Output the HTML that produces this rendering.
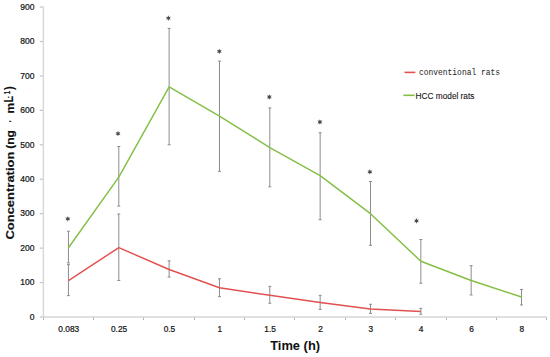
<!DOCTYPE html><html><head><meta charset="utf-8"><style>html,body{margin:0;padding:0;background:#fff;}body{width:550px;height:357px;overflow:hidden;}svg{display:block;}text{font-family:"Liberation Sans",sans-serif;}</style></head><body>
<svg width="550" height="357" viewBox="0 0 550 357">
<g stroke="#c4c4c4" stroke-width="1.2" fill="none">
<line x1="39.8" y1="317.00" x2="43.28" y2="317.00"/>
<line x1="39.8" y1="282.56" x2="43.28" y2="282.56"/>
<line x1="39.8" y1="248.12" x2="43.28" y2="248.12"/>
<line x1="39.8" y1="213.68" x2="43.28" y2="213.68"/>
<line x1="39.8" y1="179.24" x2="43.28" y2="179.24"/>
<line x1="39.8" y1="144.80" x2="43.28" y2="144.80"/>
<line x1="39.8" y1="110.36" x2="43.28" y2="110.36"/>
<line x1="39.8" y1="75.92" x2="43.28" y2="75.92"/>
<line x1="39.8" y1="41.48" x2="43.28" y2="41.48"/>
<line x1="39.8" y1="7.04" x2="43.28" y2="7.04"/>
</g>
<g stroke="#b4b4b4" stroke-width="1" fill="none">
<line x1="43.50" y1="317.0" x2="43.50" y2="320.0"/>
<line x1="93.50" y1="317.0" x2="93.50" y2="320.0"/>
<line x1="143.50" y1="317.0" x2="143.50" y2="320.0"/>
<line x1="194.50" y1="317.0" x2="194.50" y2="320.0"/>
<line x1="244.50" y1="317.0" x2="244.50" y2="320.0"/>
<line x1="294.50" y1="317.0" x2="294.50" y2="320.0"/>
<line x1="345.50" y1="317.0" x2="345.50" y2="320.0"/>
<line x1="395.50" y1="317.0" x2="395.50" y2="320.0"/>
<line x1="446.50" y1="317.0" x2="446.50" y2="320.0"/>
<line x1="496.50" y1="317.0" x2="496.50" y2="320.0"/>
<line x1="546.50" y1="317.0" x2="546.50" y2="320.0"/>
</g>
<g stroke="#d6d6d6" fill="none">
<line x1="43.4" y1="6.6" x2="43.4" y2="317.0" stroke-width="1.4"/>
<line x1="42.7" y1="317.0" x2="546.6800000000001" y2="317.0" stroke-width="1.7"/>
</g>
<g font-size="8.5" fill="#141414" stroke="#141414" stroke-width="0.22" text-anchor="end">
<text x="34.4" y="319.70">0</text>
<text x="34.4" y="285.26">100</text>
<text x="34.4" y="250.82">200</text>
<text x="34.4" y="216.38">300</text>
<text x="34.4" y="181.94">400</text>
<text x="34.4" y="147.50">500</text>
<text x="34.4" y="113.06">600</text>
<text x="34.4" y="78.62">700</text>
<text x="34.4" y="44.18">800</text>
<text x="34.4" y="9.74">900</text>
</g>
<g font-size="8.3" fill="#141414" stroke="#141414" stroke-width="0.22" text-anchor="middle">
<text x="68.75" y="331.9">0.083</text>
<text x="119.09" y="331.9">0.25</text>
<text x="169.43" y="331.9">0.5</text>
<text x="219.77" y="331.9">1</text>
<text x="270.11" y="331.9">1.5</text>
<text x="320.45" y="331.9">2</text>
<text x="370.79" y="331.9">3</text>
<text x="421.13" y="331.9">4</text>
<text x="471.47" y="331.9">6</text>
<text x="521.81" y="331.9">8</text>
</g>
<g stroke="#8c8c8c" stroke-width="1" fill="none">
<line x1="68.45" y1="262.93" x2="68.45" y2="231.24"/><line x1="66.95" y1="262.93" x2="69.95" y2="262.93"/><line x1="66.95" y1="231.24" x2="69.95" y2="231.24"/>
<line x1="118.79" y1="206.10" x2="118.79" y2="146.52"/><line x1="117.29" y1="206.10" x2="120.29" y2="206.10"/><line x1="117.29" y1="146.52" x2="120.29" y2="146.52"/>
<line x1="169.13" y1="144.80" x2="169.13" y2="28.39"/><line x1="167.63" y1="144.80" x2="170.63" y2="144.80"/><line x1="167.63" y1="28.39" x2="170.63" y2="28.39"/>
<line x1="219.47" y1="171.32" x2="219.47" y2="61.11"/><line x1="217.97" y1="171.32" x2="220.97" y2="171.32"/><line x1="217.97" y1="61.11" x2="220.97" y2="61.11"/>
<line x1="269.81" y1="186.82" x2="269.81" y2="107.95"/><line x1="268.31" y1="186.82" x2="271.31" y2="186.82"/><line x1="268.31" y1="107.95" x2="271.31" y2="107.95"/>
<line x1="320.15" y1="219.71" x2="320.15" y2="132.75"/><line x1="318.65" y1="219.71" x2="321.65" y2="219.71"/><line x1="318.65" y1="132.75" x2="321.65" y2="132.75"/>
<line x1="370.49" y1="245.36" x2="370.49" y2="181.48"/><line x1="368.99" y1="245.36" x2="371.99" y2="245.36"/><line x1="368.99" y1="181.48" x2="371.99" y2="181.48"/>
<line x1="420.83" y1="283.25" x2="420.83" y2="239.51"/><line x1="419.33" y1="283.25" x2="422.33" y2="283.25"/><line x1="419.33" y1="239.51" x2="422.33" y2="239.51"/>
<line x1="471.17" y1="294.96" x2="471.17" y2="265.68"/><line x1="469.67" y1="294.96" x2="472.67" y2="294.96"/><line x1="469.67" y1="265.68" x2="472.67" y2="265.68"/>
<line x1="521.51" y1="304.95" x2="521.51" y2="289.45"/><line x1="520.01" y1="304.95" x2="523.01" y2="304.95"/><line x1="520.01" y1="289.45" x2="523.01" y2="289.45"/>
<line x1="68.45" y1="295.65" x2="68.45" y2="264.65"/><line x1="66.95" y1="295.65" x2="69.95" y2="295.65"/><line x1="66.95" y1="264.65" x2="69.95" y2="264.65"/>
<line x1="118.79" y1="280.49" x2="118.79" y2="214.02"/><line x1="117.29" y1="280.49" x2="120.29" y2="280.49"/><line x1="117.29" y1="214.02" x2="120.29" y2="214.02"/>
<line x1="169.13" y1="277.05" x2="169.13" y2="260.86"/><line x1="167.63" y1="277.05" x2="170.63" y2="277.05"/><line x1="167.63" y1="260.86" x2="170.63" y2="260.86"/>
<line x1="219.47" y1="296.68" x2="219.47" y2="278.77"/><line x1="217.97" y1="296.68" x2="220.97" y2="296.68"/><line x1="217.97" y1="278.77" x2="220.97" y2="278.77"/>
<line x1="269.81" y1="303.22" x2="269.81" y2="286.35"/><line x1="268.31" y1="303.22" x2="271.31" y2="303.22"/><line x1="268.31" y1="286.35" x2="271.31" y2="286.35"/>
<line x1="320.15" y1="309.42" x2="320.15" y2="295.30"/><line x1="318.65" y1="309.42" x2="321.65" y2="309.42"/><line x1="318.65" y1="295.30" x2="321.65" y2="295.30"/>
<line x1="370.49" y1="313.38" x2="370.49" y2="304.26"/><line x1="368.99" y1="313.38" x2="371.99" y2="313.38"/><line x1="368.99" y1="304.26" x2="371.99" y2="304.26"/>
<line x1="420.83" y1="314.24" x2="420.83" y2="308.39"/><line x1="419.33" y1="314.24" x2="422.33" y2="314.24"/><line x1="419.33" y1="308.39" x2="422.33" y2="308.39"/>
</g>
<polyline points="68.45,280.67 118.79,247.60 169.13,269.47 219.47,287.73 269.81,295.30 320.15,302.54 370.49,308.91 420.83,311.49" fill="none" stroke="#e25050" stroke-width="1.45" stroke-linejoin="round"/>
<polyline points="68.45,247.78 118.79,177.17 169.13,86.94 219.47,116.21 269.81,147.56 320.15,175.62 370.49,213.68 420.83,261.21 471.17,280.49 521.51,297.02" fill="none" stroke="#84bf45" stroke-width="1.45" stroke-linejoin="round"/>
<g fill="#4a4a4a">
<polygon points="67.80,216.05 68.45,217.77 70.27,217.47 69.10,218.90 70.27,220.33 68.45,220.03 67.80,221.75 67.15,220.03 65.33,220.33 66.50,218.90 65.33,217.47 67.15,217.77"/>
<polygon points="118.00,130.85 118.65,132.57 120.47,132.27 119.30,133.70 120.47,135.12 118.65,134.83 118.00,136.55 117.35,134.83 115.53,135.12 116.70,133.70 115.53,132.27 117.35,132.57"/>
<polygon points="168.40,15.35 169.05,17.07 170.87,16.77 169.70,18.20 170.87,19.62 169.05,19.33 168.40,21.05 167.75,19.33 165.93,19.62 167.10,18.20 165.93,16.77 167.75,17.07"/>
<polygon points="219.30,48.45 219.95,50.17 221.77,49.88 220.60,51.30 221.77,52.72 219.95,52.43 219.30,54.15 218.65,52.43 216.83,52.72 218.00,51.30 216.83,49.88 218.65,50.17"/>
<polygon points="269.30,94.15 269.95,95.87 271.77,95.58 270.60,97.00 271.77,98.42 269.95,98.13 269.30,99.85 268.65,98.13 266.83,98.42 268.00,97.00 266.83,95.58 268.65,95.87"/>
<polygon points="319.90,119.15 320.55,120.87 322.37,120.58 321.20,122.00 322.37,123.42 320.55,123.13 319.90,124.85 319.25,123.13 317.43,123.42 318.60,122.00 317.43,120.58 319.25,120.87"/>
<polygon points="369.90,168.95 370.55,170.67 372.37,170.38 371.20,171.80 372.37,173.23 370.55,172.93 369.90,174.65 369.25,172.93 367.43,173.23 368.60,171.80 367.43,170.38 369.25,170.67"/>
<polygon points="416.50,217.95 417.15,219.67 418.97,219.38 417.80,220.80 418.97,222.23 417.15,221.93 416.50,223.65 415.85,221.93 414.03,222.23 415.20,220.80 414.03,219.38 415.85,219.67"/>
</g>
<line x1="404.5" y1="72.4" x2="415.4" y2="72.4" stroke="#e25050" stroke-width="1.6"/>
<text x="419" y="74.6" font-size="9" fill="#222" textLength="81" lengthAdjust="spacingAndGlyphs" style="font-family:'Liberation Mono',monospace">conventional rats</text>
<line x1="403.4" y1="95.3" x2="414.6" y2="95.3" stroke="#84bf45" stroke-width="1.6"/>
<text x="415.6" y="99" font-size="8.5" fill="#141414" stroke="#141414" stroke-width="0.1" textLength="58.8" lengthAdjust="spacingAndGlyphs">HCC model rats</text>
<text x="270.2" y="350.1" font-size="12.1" font-weight="bold" fill="#111" textLength="49.9" lengthAdjust="spacingAndGlyphs">Time (h)</text>
<text transform="translate(13.9,239.6) rotate(-90)" font-weight="bold" fill="#111" stroke="#111" stroke-width="0.15" font-size="11.6" textLength="88.00" lengthAdjust="spacingAndGlyphs" >Concentration</text>
<text transform="translate(13.9,148.8) rotate(-90)" font-weight="bold" fill="#111" stroke="#111" stroke-width="0.15" font-size="11.6" textLength="18.80" lengthAdjust="spacingAndGlyphs" >(ng</text>
<text transform="translate(13.9,122.6) rotate(-90)" font-weight="bold" fill="#111" stroke="#111" stroke-width="0.15" font-size="11.6" textLength="2.80" lengthAdjust="spacingAndGlyphs" >·</text>
<text transform="translate(13.5,113.6) rotate(-90)" font-weight="bold" fill="#111" stroke="#111" stroke-width="0.15" font-size="11.6" textLength="10.70" lengthAdjust="spacingAndGlyphs" >m</text>
<text transform="translate(13.4,102.6) rotate(-90)" font-weight="bold" fill="#111" stroke="#111" stroke-width="0.15" font-size="12.4" textLength="6.60" lengthAdjust="spacingAndGlyphs" >L</text>
<text transform="translate(10.2,98.2) rotate(-90)" font-weight="bold" fill="#111" stroke="#111" stroke-width="0.15" font-size="7" textLength="2.00" lengthAdjust="spacingAndGlyphs" >-</text>
<text transform="translate(9.9,94.2) rotate(-90)" font-weight="bold" fill="#111" stroke="#111" stroke-width="0.15" font-size="9" textLength="3.40" lengthAdjust="spacingAndGlyphs" >1</text>
<text transform="translate(13.4,90) rotate(-90)" font-weight="bold" fill="#111" stroke="#111" stroke-width="0.15" font-size="12.4" textLength="3.70" lengthAdjust="spacingAndGlyphs" >)</text>
</svg></body></html>
